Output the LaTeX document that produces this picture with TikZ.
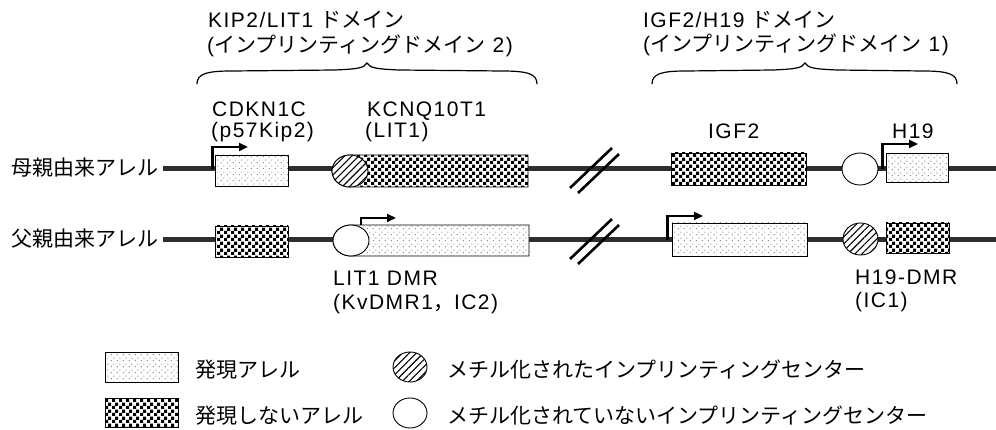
\documentclass[tikz,border=0pt]{standalone}
\usepackage{fontspec}
\setmainfont[LetterSpace=7]{Liberation Sans}
\newfontfamily\jpf{Noto Sans CJK JP}
\usetikzlibrary{patterns.meta,arrows.meta,shapes.geometric,calc}

\tikzdeclarepattern{
  name=sdots, type=uncolored,
  bounding box={(0pt,0pt) and (5.5pt,5.5pt)},
  tile size={(5.5pt,5.5pt)},
  code={\fill (1.4pt,1.4pt) circle (0.6pt); \fill (4.15pt,4.15pt) circle (0.6pt);}
}
\tikzdeclarepattern{
  name=checker, type=uncolored,
  bounding box={(0pt,0pt) and (7pt,7pt)},
  tile size={(7pt,7pt)},
  code={\fill (0pt,0pt) rectangle (3.5pt,3.5pt); \fill (3.5pt,3.5pt) rectangle (7pt,7pt);}
}

\tikzset{
  chrom/.style={line width=5pt, draw=black!82},
  expbox/.style={draw=black, line width=0.9pt, preaction={fill=white}, pattern=sdots, pattern color=black!60, inner sep=0pt, rectangle},
  silbox/.style={draw=black, line width=0.9pt, preaction={fill=white}, pattern=checker, pattern color=black, inner sep=0pt, rectangle},
  metc/.style={ellipse, draw=black, line width=0.9pt, preaction={fill=white}, pattern={Lines[angle=45,distance=5pt,line width=1.1pt]}, inner sep=0pt},
  unmc/.style={ellipse, draw=black, line width=0.9pt, fill=white, inner sep=0pt},
  prom/.style={line width=2.3pt, -{Triangle[length=9pt,width=8pt]}},
  brk/.style={line width=2.6pt},
  brc/.style={line width=1.2pt},
  lbl/.style={inner sep=0pt, anchor=base west, font=\fontsize{21}{23}\selectfont},
}

\begin{document}
\begin{tikzpicture}[x=1pt,y=-1pt]
\useasboundingbox (0,0) rectangle (996,430);

% allele labels
\node[lbl] (matl) at (11,176) {\jpf 母親由来アレル};
\node[lbl] (patl) at (11,247) {\jpf 父親由来アレル};
\coordinate (mend) at (996,169);
\coordinate (pend) at (996,240);

% chromosome lines
\draw[chrom] (matl.east |- mend) ++(5,0) -- (mend);
\draw[chrom] (patl.east |- pend) ++(5,0) -- (pend);

% break marks
\draw[brk] (570,188) -- (612,148);
\draw[brk] (578,193) -- (619,154);
\draw[brk] (570,259) -- (612,219);
\draw[brk] (578,264) -- (619,225);

% ---- maternal allele ----
\node[expbox, minimum width=73pt, minimum height=31pt] (cdkn) at (251.5,170.5) {};
\path[silbox] (528,155) -- (350,155) arc[start angle=270, end angle=90, x radius=18, y radius=16] -- (528,187) -- cycle;
\node[metc, minimum width=36pt, minimum height=32pt] (litm) at (350,171) {};
\node[silbox, minimum width=135pt, minimum height=32pt] (igfm) at (738.5,169) {};
\node[unmc, minimum width=36pt, minimum height=32pt] (h19icm) at (860,169) {};
\node[expbox, minimum width=62pt, minimum height=29pt] (h19m) at (917,167.5) {};

\draw[prom] (cdkn.west |- mend) ++(-2,0) |- (248,147);
\draw[prom] (h19m.west |- mend) ++(-3,0) |- (918,144);

% ---- paternal allele ----
\node[silbox, minimum width=73pt, minimum height=31pt] (cdknp) at (251.5,241.5) {};
\path[expbox] (529,225) -- (351,225) arc[start angle=270, end angle=90, x radius=18, y radius=15.5] -- (529,256) -- cycle;
\node[unmc, minimum width=36pt, minimum height=31pt] (litp) at (351,240.5) {};
\node[expbox, minimum width=135pt, minimum height=33pt] (igfp) at (739.5,239.5) {};
\node[metc, minimum width=35pt, minimum height=32pt] (h19icp) at (860.5,239) {};
\node[silbox, minimum width=63pt, minimum height=30pt] (h19p) at (917.5,238) {};

\draw[prom] (361,225.5) |- (396,218);
\draw[prom] (igfp.west |- pend) ++(-4,0) |- (703,216);

% ---- gene labels ----
\node[lbl] (l1) at (212,117) {CDKN1C};
\node[lbl] (l2) at (211,138) {(p57Kip2)};
\node[lbl] (l3) at (367,117) {KCNQ10T1};
\node[lbl] (l4) at (365,138) {(LIT1)};
\node[lbl] (l5) at (708,139) {IGF2};
\node[lbl] (l6) at (892,139) {H19};
\node[lbl] (l7) at (333,286) {LIT1 DMR};
\node[lbl] (l8) at (333,310) {(KvDMR1{\jpf ，}IC2)};
\node[lbl] (l9) at (855,285) {H19-DMR};
\node[lbl] (l10) at (855,308) {(IC1)};

% ---- domain labels and braces ----
\node[lbl] (d1) at (208,28) {KIP2/LIT1 {\jpf ドメイン}};
\node[lbl] (d2) at (207,53) {({\jpf インプリンティングドメイン} 2)};
\node[lbl] (d3) at (643,28) {IGF2/H19 {\jpf ドメイン}};
\node[lbl] (d4) at (643,52) {({\jpf インプリンティングドメイン} 1)};

\draw[brc] (197,84) .. controls (197,74) and (206,71) .. (232,71) -- (335,70)
  .. controls (358,69) and (364,68) .. (367,63)
  .. controls (370,68) and (376,69) .. (399,70) -- (502,71)
  .. controls (528,71) and (537,74) .. (537,84);
\draw[brc] (652,84) .. controls (652,74) and (661,71) .. (686,71) -- (773,70)
  .. controls (796,69) and (802,68) .. (805,63)
  .. controls (808,68) and (814,69) .. (837,70) -- (923,71)
  .. controls (948,71) and (957,74) .. (957,84);

% ---- legend ----
\node[expbox, minimum width=73pt, minimum height=30pt] (lg1) at (141.5,367) {};
\node[lbl] (lg1t) at (195,377) {\jpf 発現アレル};
\node[silbox, minimum width=73pt, minimum height=29pt] (lg2) at (141.5,412.5) {};
\node[lbl] (lg2t) at (195,423) {\jpf 発現しないアレル};
\node[metc, minimum width=34pt, minimum height=30pt] (lg3) at (410,367) {};
\node[lbl] (lg3t) at (447,377) {\jpf メチル化されたインプリンティングセンター};
\node[unmc, minimum width=34pt, minimum height=30pt] (lg4) at (410,413) {};
\node[lbl] (lg4t) at (447,423) {\jpf メチル化されていないインプリンティングセンター};
\end{tikzpicture}
\end{document}
